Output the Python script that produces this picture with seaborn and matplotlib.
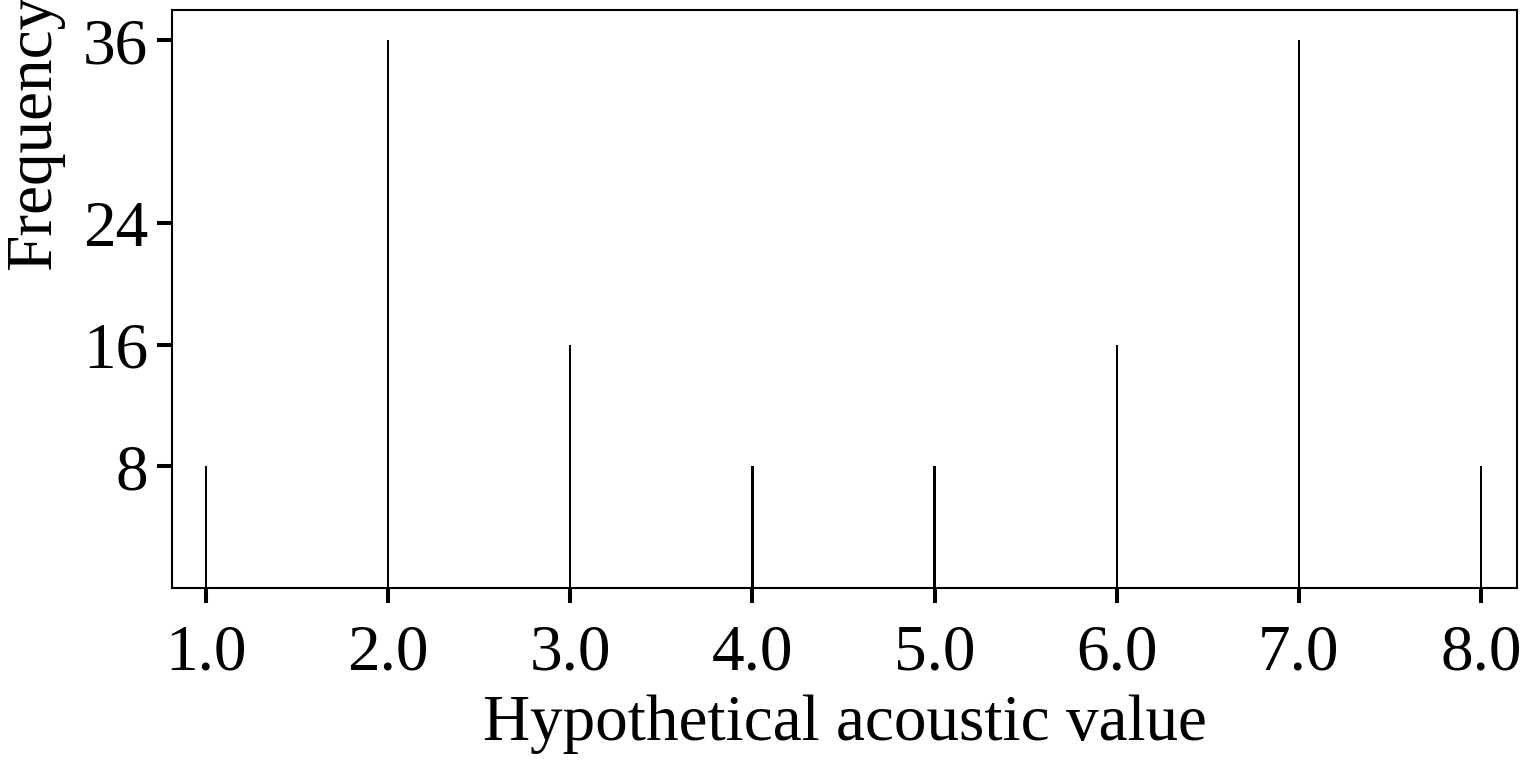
import matplotlib
matplotlib.use("Agg")
import matplotlib.pyplot as plt
import seaborn as sns
import pandas as pd

values = [1.0, 2.0, 3.0, 4.0, 5.0, 6.0, 7.0, 8.0]
frequency = [8, 36, 16, 8, 8, 16, 36, 8]
yticks = [8, 16, 24, 36]
xticks = [1.0, 2.0, 3.0, 4.0, 5.0, 6.0, 7.0, 8.0]

sns.set_theme(style="ticks")
plt.rcParams['font.family'] = ['Liberation Serif', 'DejaVu Serif']

fig = plt.figure(figsize=(15.4, 7.63), dpi=100)
ax = fig.add_axes([172/1540, 1 - 588/763, (1517-172)/1540, (588-10)/763])

df = pd.DataFrame({"value": values, "freq": frequency})
sns.barplot(data=df, x="value", y="freq", native_scale=True, width=0.013,
            color="black", edgecolor="black", linewidth=0, ax=ax)

ax.set_xlim(0.813, 8.198)
ax.set_ylim(0, 38)
ax.set_xticks(xticks)
ax.set_xticklabels([f"{v:.1f}" for v in xticks])
ax.set_yticks(yticks)
ax.set_yticklabels([str(v) for v in yticks])
ax.tick_params(axis='both', labelsize=47, length=11, width=2.9, color='black',
               labelcolor='black', direction='out')
ax.tick_params(axis='x', pad=15)
ax.tick_params(axis='y', pad=6)
for s in ax.spines.values():
    s.set_visible(True)
    s.set_linewidth(1.5)
    s.set_color('black')
ax.grid(False)
ax.set_facecolor('white')

ax.set_xlabel("Hypothetical acoustic value", fontsize=47, color='black', labelpad=8)
ax.set_ylabel("Frequency", fontsize=47, color='black')
ax.yaxis.set_label_coords(-0.080, 0.788)

fig.savefig("out.png", dpi=100, facecolor='white')
